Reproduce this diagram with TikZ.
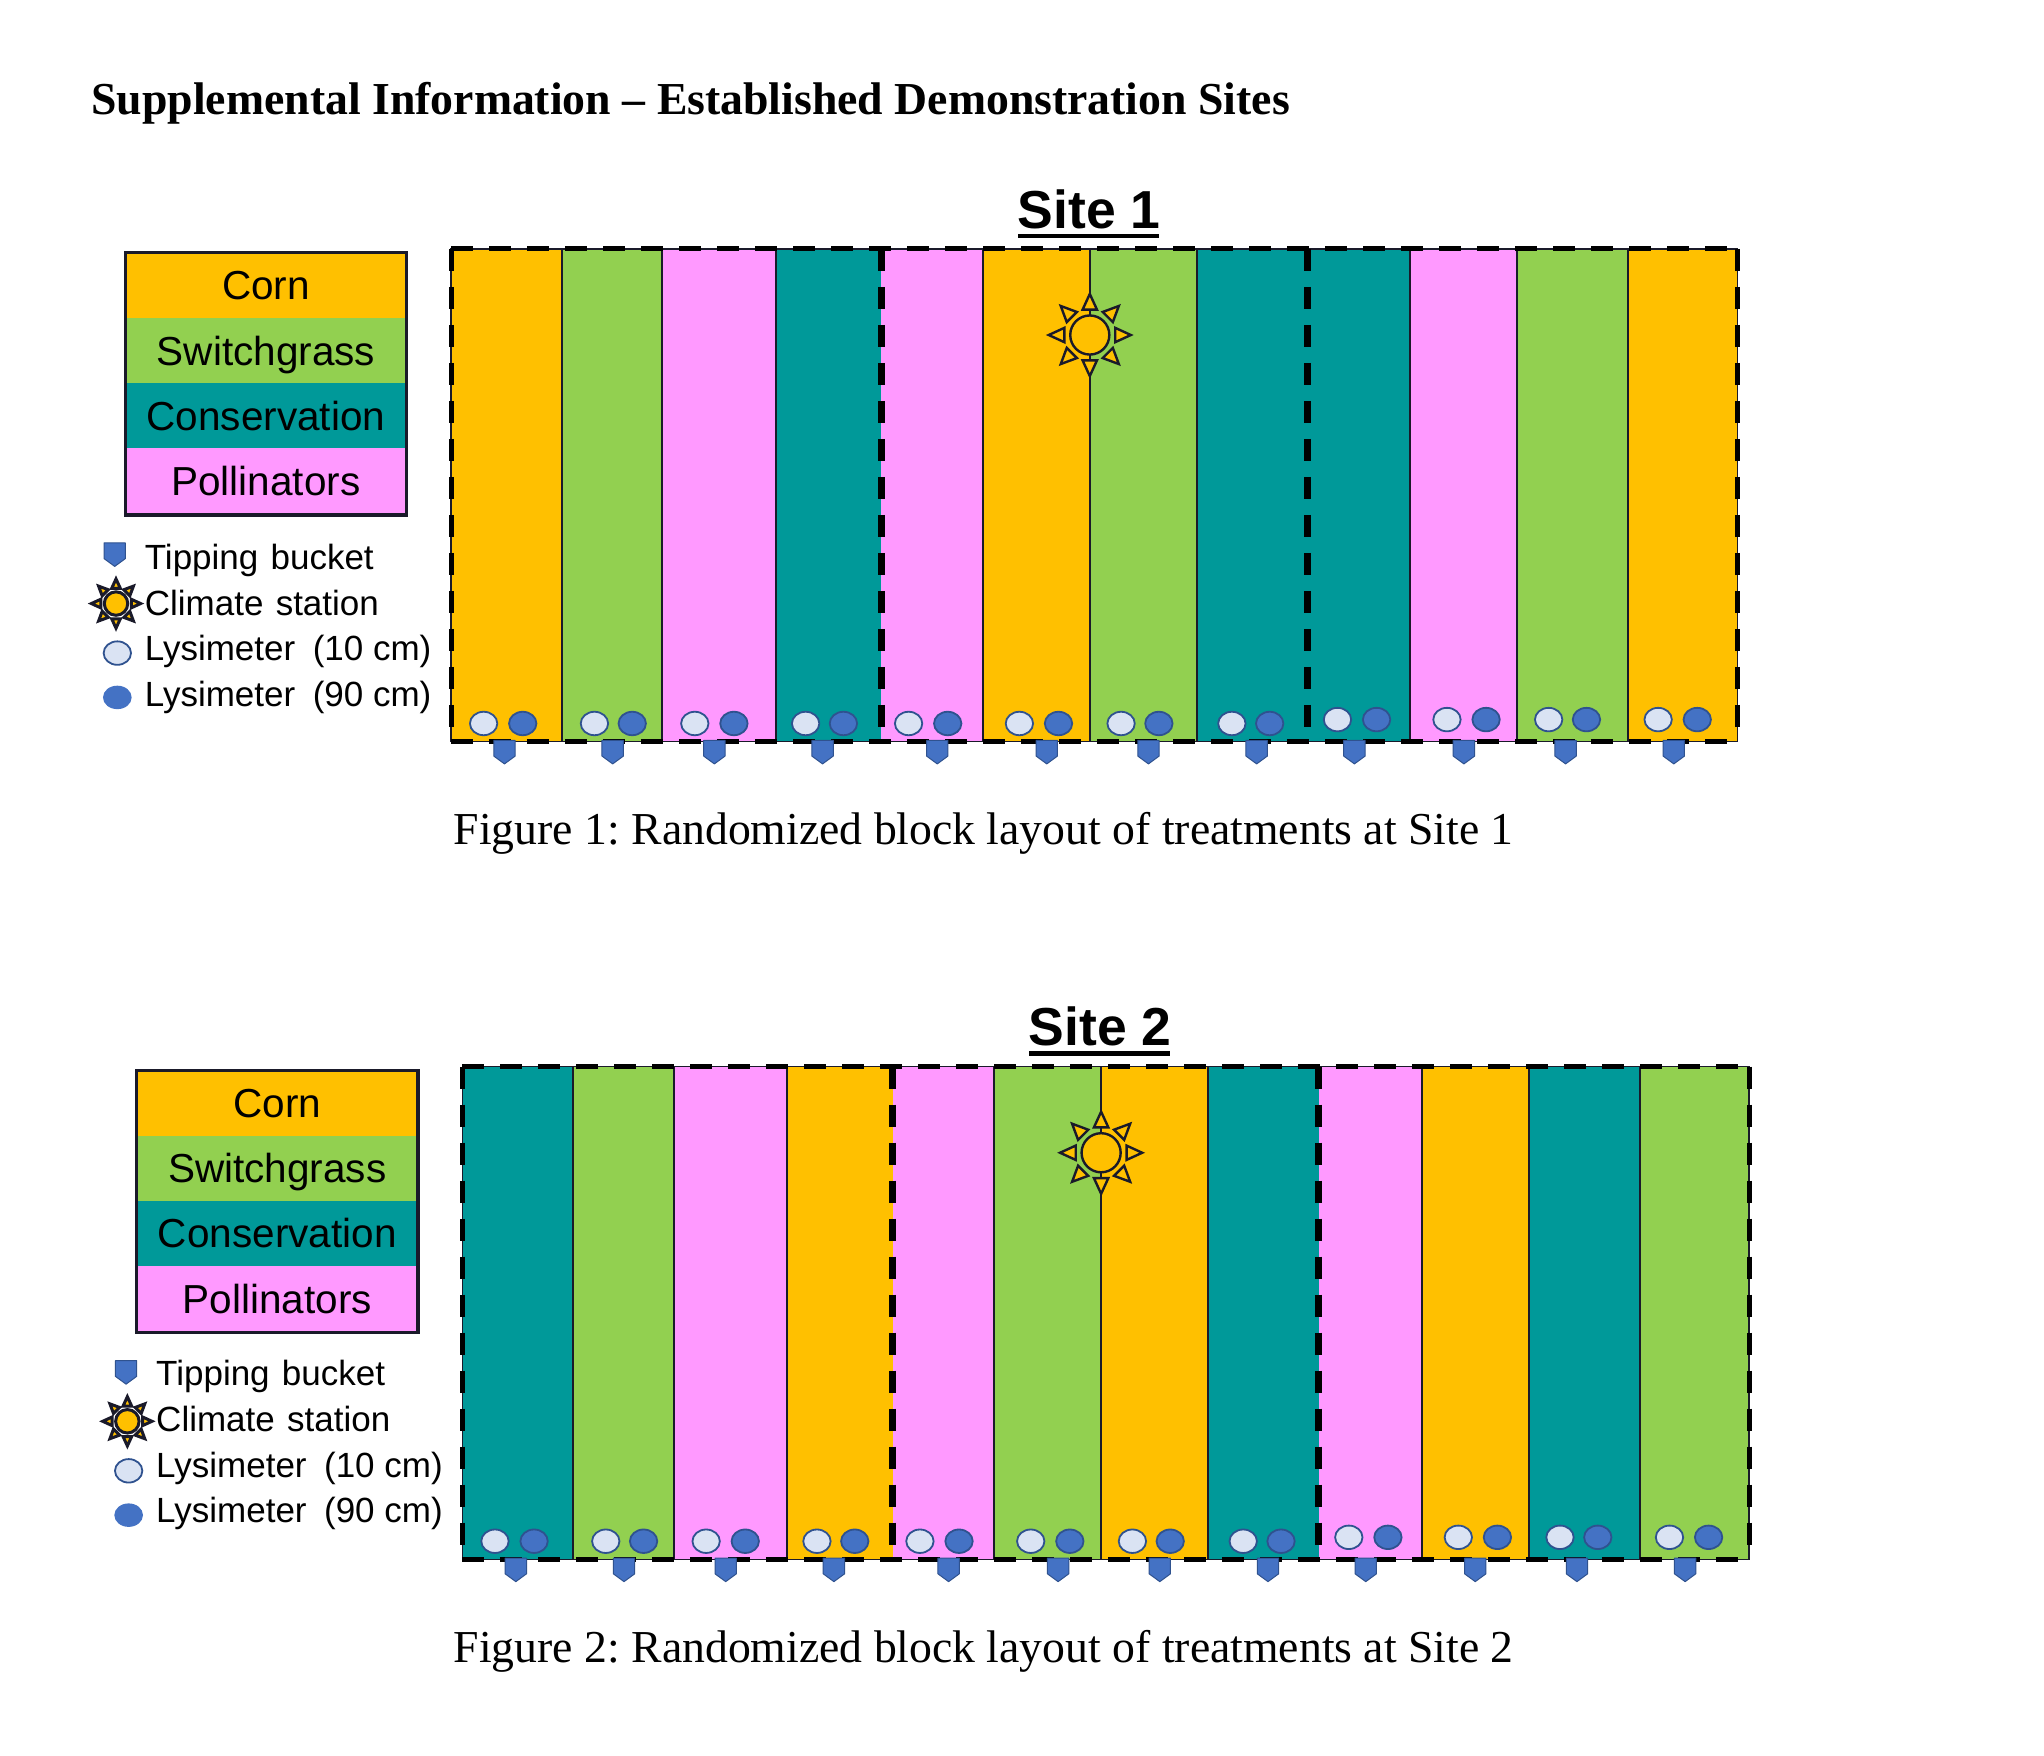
\documentclass[tikz,border=0pt]{standalone}
\usepackage{fontspec}
\setmainfont{Liberation Serif}
\newfontfamily\arialf{Liberation Sans}
\definecolor{stC}{HTML}{FFC000}
\definecolor{stS}{HTML}{92D050}
\definecolor{stK}{HTML}{009999}
\definecolor{stP}{HTML}{FF99FF}
\definecolor{lysL}{HTML}{DAE3F3}
\definecolor{lysD}{HTML}{4472C4}
\definecolor{lysE}{HTML}{2F528F}
\definecolor{inkc}{HTML}{1A1A2A}
\newcommand{\fsz}[1]{\fontsize{#1}{#1}\selectfont}
\tikzset{
  x=1.30357pt, y=-1.30357pt,
  striprule/.style={draw=inkc, line width=2pt},
  edgerule/.style={draw=inkc, line width=1.4pt},
  outerdash/.style={draw=black, line width=5pt, dash pattern=on 22pt off 16pt},
  blockdash/.style={draw=black, line width=7pt, dash pattern=on 22pt off 16pt},
  legendbox/.style={draw=inkc, line width=3.2pt},
  legendtext/.style={font=\arialf\fsz{40.5}, anchor=base, text=black, inner sep=0pt},
  keytext/.style={font=\arialf\fsz{35}, anchor=base west, text=black, inner sep=0pt},
  sitetitle/.style={font=\arialf\bfseries\fsz{53.5}, anchor=base, inner sep=0pt},
  headtext/.style={font=\bfseries\fsz{45.75}, anchor=base west, inner sep=0pt},
  captext/.style={font=\fsz{45.7}, anchor=base west, inner sep=0pt},
  shallowlys/.style={draw=lysE, fill=lysL, line width=1.8pt},
  deeplys/.style={draw=lysE, fill=lysD, line width=1.8pt},
  bucket/.pic={\fill[lysD, draw=lysE, line width=1pt, line join=round]
     (-8.2,-1) -- (8.2,-1) -- (8.2,11) -- (0,17) -- (-8.2,11) -- cycle;},
  sunicon/.pic={
    \foreach \a in {0,45,...,315}{
      \draw[draw=inkc, fill=stC, line width=#1, line join=miter, rotate=\a]
        (19.5,-5.5) -- (31.5,0) -- (19.5,5.5) -- cycle;}
    \draw[draw=inkc, fill=stC, line width=#1] (0,0) circle (15);
  },
}
\newcommand{\sitepanel}[2]{%
  \foreach \col [count=\i] in {#2}{
    \pgfmathsetmacro{\xl}{{346,431,508,595,676,754,836,918,1003,1082,1164,1249}[\i-1]}
    \pgfmathsetmacro{\xr}{{431,508,595,676,754,836,918,1003,1082,1164,1249,1333}[\i-1]}
    \fill[st\col] (\xl,191) rectangle (\xr,569);
  }
  \foreach \xx in {431,508,595,754,836,918,1082,1164,1249}{
    \draw[striprule] (\xx,191) -- (\xx,569);
  }
  \draw[edgerule] (346,191) rectangle (1333,569);
  \draw[outerdash] (346,191) -- (1333,191);
  \draw[outerdash] (346,569) -- (1333,569);
  \draw[outerdash] (346,191) -- (346,569);
  \draw[outerdash] (1333,191) -- (1333,569);
  \draw[blockdash] (676,191) -- (676,569);
  \draw[blockdash] (1003,191) -- (1003,569);
  \foreach \xa/\xb/\xc/\yy in {371/401/387/555,456/485/470/555,533/563/548/555,618/647/631/555,
      697/727/719/555,782/812/803/555,860/889/881/555,945/974/964/555,
      1026/1056/1039/552,1110/1140/1123/552,1188/1217/1201/552,1272/1302/1284/552}{
    \draw[shallowlys] (\xa,\yy) ellipse (10.5 and 9);
    \draw[deeplys] (\xb,\yy) ellipse (10.5 and 9);
    \pic at (\xc,569) {bucket};
  }
  \pic at (836,257) {sunicon=2.4pt};
  \node[sitetitle] (title#1) at (835.4,175) {Site #1};
  \draw[line width=4.5pt] (781,181) -- (889,181);
}
% #1 = vertical nudge of the key lines
\newcommand{\keypanel}[1]{%
  \fill[stC] (96,194) rectangle (312,244);
  \fill[stS] (96,244) rectangle (312,294);
  \fill[stK] (96,294) rectangle (312,344);
  \fill[stP] (96,344) rectangle (312,395);
  \draw[legendbox] (96,194) rectangle (312,395);
  \node[legendtext] at (204,230) {Corn};
  \node[legendtext] at (204,280) {Switchgrass};
  \node[legendtext] at (204,330) {Conservation};
  \node[legendtext] at (204,380) {Pollinators};
  \pic at (88,417.5) {bucket};
  \pic[scale=.6] at (89,463) {sunicon=3pt};
  \draw[shallowlys] (90,501) ellipse (10.5 and 9);
  \fill[lysD] (90,535) ellipse (11 and 9);
  \node[keytext] at (111,{437+#1}) {Tipping\hspace{.35em}bucket};
  \node[keytext] at (111,{472+#1}) {Climate\hspace{.35em}station};
  \node[keytext] at (111,{507+#1}) {Lysimeter\hspace{.5em}(10 cm)};
  \node[keytext] at (111,{542+#1}) {Lysimeter\hspace{.5em}(90 cm)};
}
\begin{document}
\frenchspacing
\begin{tikzpicture}
\useasboundingbox (0,0) rectangle (1568,1347);
\fill[white] (0,0) rectangle (1568,1347);
\node[headtext] (heading) at (70,88) {Supplemental Information – Established Demonstration Sites};
\sitepanel{1}{C,S,P,K,P,C,S,K,K,P,S,C}
\keypanel{0}
\node[captext] (cap1) at (348,648) {Figure 1: Randomized block layout of treatments at Site 1};
\begin{scope}[shift={(8.7,627.3)}]
\sitepanel{2}{K,S,P,C,P,S,C,K,P,C,K,S}
\keypanel{-1.2}
\end{scope}
\node[captext] (cap2) at (348,1275.3) {Figure 2: Randomized block layout of treatments at Site 2};
\end{tikzpicture}
\end{document}
